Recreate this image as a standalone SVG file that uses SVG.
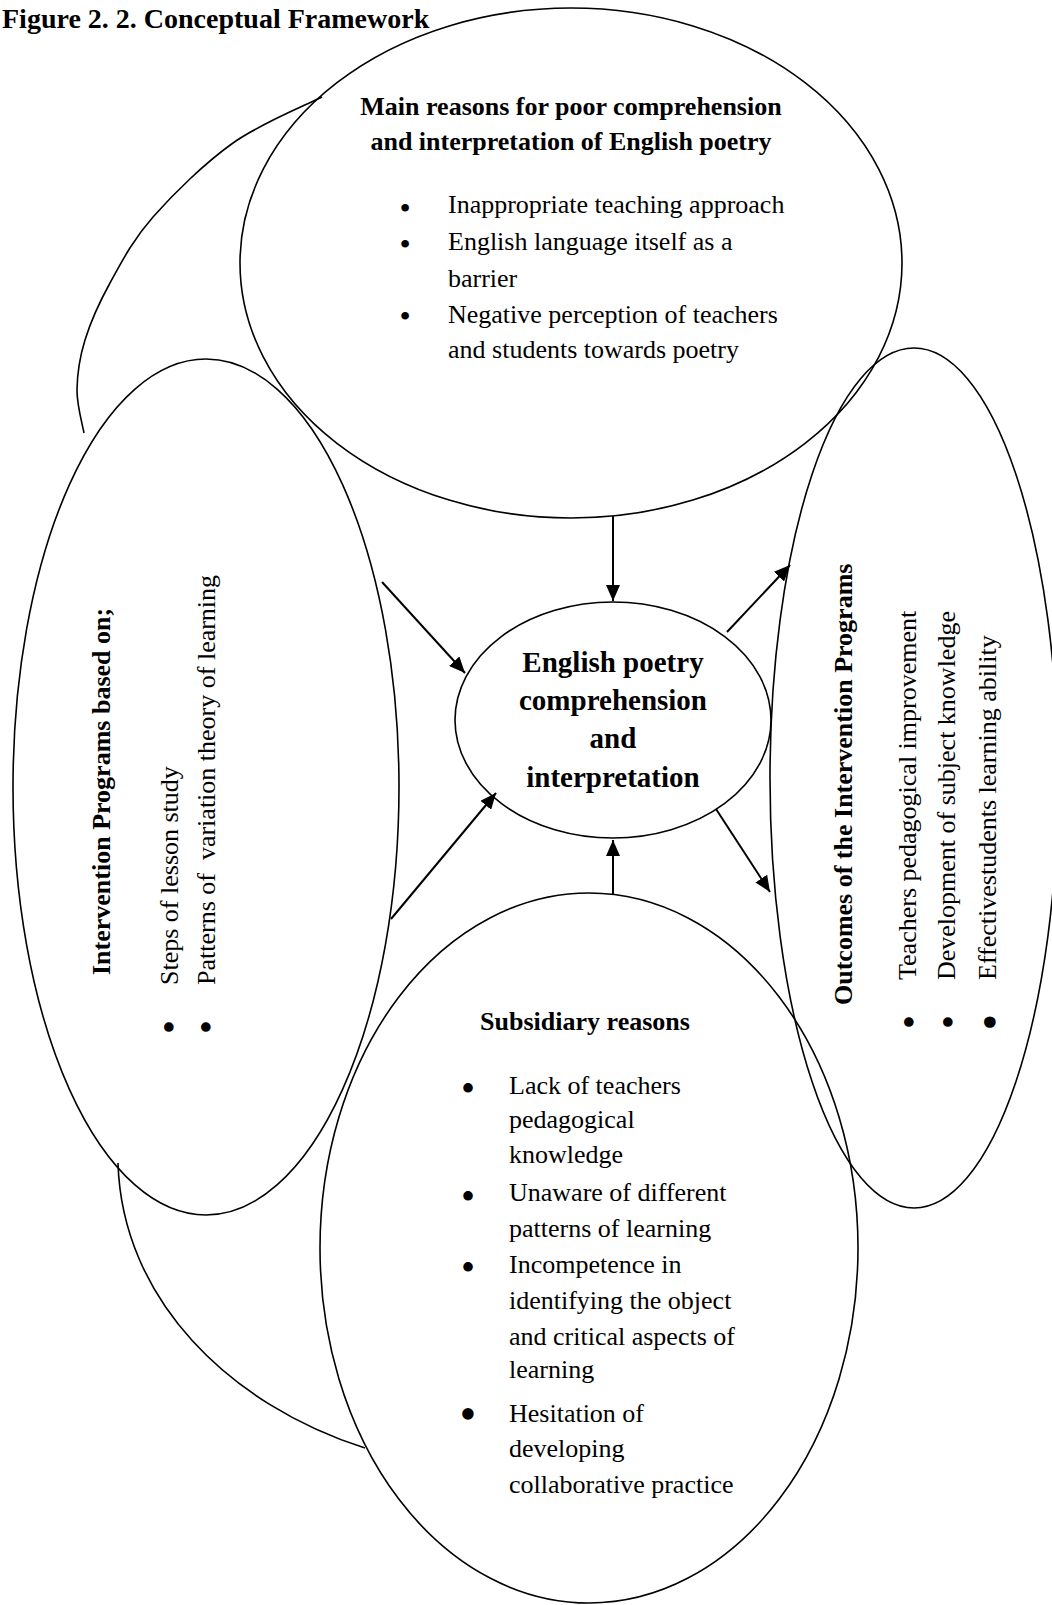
<svg xmlns="http://www.w3.org/2000/svg" width="1052" height="1605" viewBox="0 0 1052 1605">
<style>
.shape{fill:none;stroke:#000;stroke-width:1.6}
.conn{fill:none;stroke:#000;stroke-width:2}
text{font-family:"Liberation Serif","Times New Roman",serif;fill:#000}
.b{font-weight:bold}
.t26{font-size:26px}
.t29{font-size:29px}
.bul{font-size:40px;text-anchor:middle}
.bulS{font-size:32px;text-anchor:middle}
.bulL{font-size:48px;text-anchor:middle}
.mid{text-anchor:middle}
.pre{white-space:pre}
</style>
<defs>
<marker id="ah" markerUnits="userSpaceOnUse" viewBox="0 0 16 14" refX="16" refY="7" markerWidth="16" markerHeight="14" orient="auto">
<path d="M0,0 L16,7 L0,14 z" fill="#000"/>
</marker>
</defs>
<rect x="0" y="0" width="1052" height="1605" fill="#fff"/>

<text id="title" class="b" x="2" y="28" font-size="28">Figure 2. 2. Conceptual Framework</text>

<g id="decor-arcs">
<path class="shape" d="M322,97 C307.2,104.7 261.2,123 233,143 C204.8,163 173.5,193.7 153,217 C132.5,240.3 121.3,262.5 110,283 C98.7,303.5 90.5,322.2 85,340 C79.5,357.8 77.2,374.5 77,390 C76.8,405.5 82.8,425.8 84,433"/>
<path class="shape" d="M118,1163 C122,1300 230,1405 365,1448"/>
</g>

<g id="main-reasons">
<ellipse class="shape" cx="571" cy="263" rx="331" ry="255"/>
<text class="b t26 mid" x="571" y="115">Main reasons for poor comprehension</text>
<text class="b t26 mid" x="571" y="150">and interpretation of English poetry</text>
<text class="bulS" x="405" y="219">•</text>
<text class="bulS" x="405" y="255">•</text>
<text class="bulS" x="405" y="327">•</text>
<text class="t26" x="448" y="213">Inappropriate teaching approach</text>
<text class="t26" x="448" y="250">English language itself as a</text>
<text class="t26" x="448" y="287">barrier</text>
<text class="t26" x="448" y="323">Negative perception of teachers</text>
<text class="t26" x="448" y="358">and students towards poetry</text>
</g>

<g id="interventions">
<ellipse class="shape" cx="206" cy="787" rx="193" ry="428"/>
<text class="b t26" transform="translate(110,975) rotate(-90)">Intervention Programs based on;</text>
<text class="t26" transform="translate(178,985) rotate(-90)">Steps of lesson study</text>
<text class="t26 pre" transform="translate(215,985) rotate(-90)">Patterns of  variation theory of learning</text>
<text class="bul" transform="translate(183,1027) rotate(-90)">•</text>
<text class="bul" transform="translate(220,1027) rotate(-90)">•</text>
</g>

<g id="outcomes">
<ellipse class="shape" cx="914" cy="778" rx="144" ry="430"/>
<text class="b t26" transform="translate(852,1005) rotate(-90)">Outcomes of the Intervention Programs</text>
<text class="t26" transform="translate(916,980) rotate(-90)">Teachers pedagogical improvement</text>
<text class="t26" transform="translate(955,980) rotate(-90)">Development of subject knowledge</text>
<text class="t26" transform="translate(996,980) rotate(-90)">Effectivestudents learning ability</text>
<text class="bul" transform="translate(923,1022) rotate(-90)">•</text>
<text class="bul" transform="translate(962,1022) rotate(-90)">•</text>
<text class="bulL" transform="translate(1006,1022) rotate(-90)">•</text>
</g>

<g id="subsidiary">
<ellipse class="shape" cx="589" cy="1248" rx="269" ry="355"/>
<text class="b t26 mid" x="585" y="1030">Subsidiary reasons</text>
<text class="bul" x="468" y="1102">•</text>
<text class="bul" x="468" y="1210">•</text>
<text class="bul" x="468" y="1281">•</text>
<text class="bulL" x="468" y="1430">•</text>
<text class="t26" x="509" y="1094">Lack of teachers</text>
<text class="t26" x="509" y="1128">pedagogical</text>
<text class="t26" x="509" y="1163">knowledge</text>
<text class="t26" x="509" y="1201">Unaware of different</text>
<text class="t26" x="509" y="1237">patterns of learning</text>
<text class="t26" x="509" y="1273">Incompetence in</text>
<text class="t26" x="509" y="1309">identifying the object</text>
<text class="t26" x="509" y="1345">and critical aspects of</text>
<text class="t26" x="509" y="1378">learning</text>
<text class="t26" x="509" y="1422">Hesitation of</text>
<text class="t26" x="509" y="1457">developing</text>
<text class="t26" x="509" y="1493">collaborative practice</text>
</g>

<g id="center">
<ellipse class="shape" cx="613" cy="720" rx="158" ry="118"/>
<text class="b t29 mid" x="613" y="672">English poetry</text>
<text class="b t29 mid" x="613" y="710">comprehension</text>
<text class="b t29 mid" x="613" y="748">and</text>
<text class="b t29 mid" x="613" y="787">interpretation</text>
</g>

<g id="connectors">
<line class="conn" x1="613" y1="516" x2="613" y2="601" marker-end="url(#ah)"/>
<line class="conn" x1="382" y1="582" x2="465" y2="673" marker-end="url(#ah)"/>
<line class="conn" x1="391" y1="919" x2="496" y2="793" marker-end="url(#ah)"/>
<line class="conn" x1="727" y1="632" x2="790" y2="565" marker-end="url(#ah)"/>
<line class="conn" x1="716" y1="809" x2="770" y2="892" marker-end="url(#ah)"/>
<line class="conn" x1="613" y1="894" x2="613" y2="840" marker-end="url(#ah)"/>
</g>
</svg>
